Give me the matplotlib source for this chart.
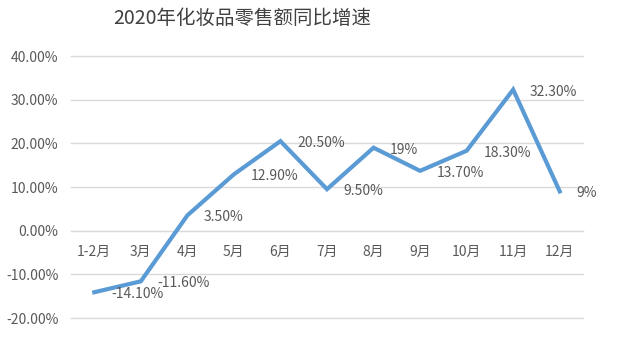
import matplotlib.pyplot as plt
from matplotlib.ticker import FuncFormatter

plt.rcParams['font.family'] = ['Noto Sans CJK SC', 'DejaVu Sans']

months = ['1-2月', '3月', '4月', '5月', '6月', '7月', '8月', '9月', '10月', '11月', '12月']
growth = [-14.1, -11.6, 3.5, 12.9, 20.5, 9.5, 19, 13.7, 18.3, 32.3, 9]
point_labels = ['-14.10%', '-11.60%', '3.50%', '12.90%', '20.50%', '9.50%',
                '19%', '13.70%', '18.30%', '32.30%', '9%']
yticks = [-20, -10, 0, 10, 20, 30, 40]

text_color = '#595959'
line_color = '#5B9BD5'
grid_color = '#d9d9d9'

fig = plt.figure(figsize=(6.36, 3.52), dpi=100)
ax = fig.add_axes([71 / 636, 1 - 318 / 352, 512 / 636, 262 / 352])

x = list(range(len(months)))
ax.plot(x, growth, color=line_color, linewidth=3, solid_joinstyle='miter', zorder=3)

for xi, yi, lab in zip(x, growth, point_labels):
    ax.annotate(lab, (xi, yi), xytext=(12, -1.5), textcoords='offset points',
                ha='left', va='center', fontsize=10, color=text_color)

ax.set_xlim(-0.5, len(months) - 0.5)
ax.set_ylim(-20, 40)
ax.set_yticks(yticks)
ax.yaxis.set_major_formatter(FuncFormatter(lambda v, p: '%.2f%%' % v))
ax.grid(axis='y', color=grid_color, linewidth=1)
for gl in ax.yaxis.get_gridlines():
    gl.set_clip_on(False)
ax.set_axisbelow(True)

ax.set_xticks(x)
ax.set_xticklabels(months)
ax.spines['bottom'].set_position(('data', 0))
ax.spines['bottom'].set_color(grid_color)
for s in ['top', 'right', 'left']:
    ax.spines[s].set_visible(False)
ax.tick_params(axis='x', length=0, pad=10, labelsize=10, labelcolor=text_color)
ax.tick_params(axis='y', length=0, pad=9, labelsize=10, labelcolor=text_color)

fig.text(242 / 636, 1 - 18 / 352, '2020年化妆品零售额同比增速', ha='center', va='center',
         fontsize=14, color='#404040')

fig.savefig('out.png', dpi=100)
